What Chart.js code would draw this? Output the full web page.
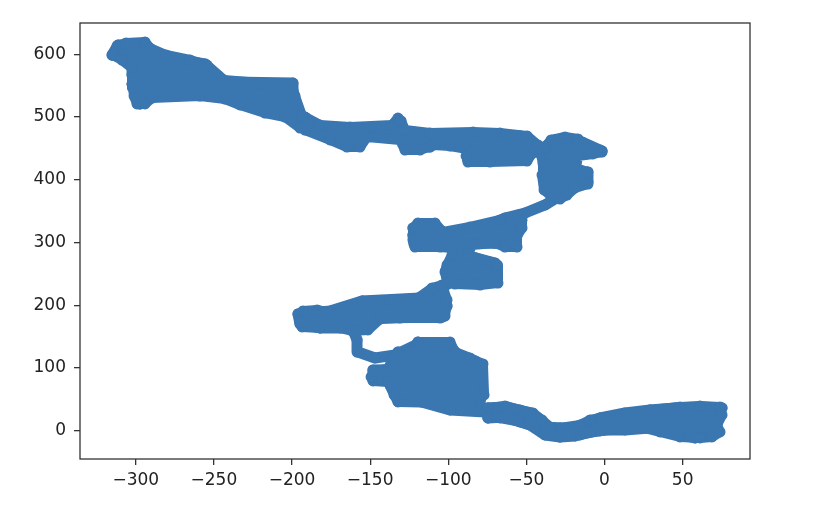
<!DOCTYPE html>
<html>
<head>
<meta charset="utf-8">
<script src="https://cdn.jsdelivr.net/npm/chart.js@4.4.1/dist/chart.umd.min.js"></script>
<style>
html, body { margin: 0; padding: 0; background: #fff; }
#wrap { width: 818px; height: 516px; }
</style>
</head>
<body>
<div id="wrap"><canvas id="chart"></canvas></div>
<script>
// path of the walk (waypoints, joined by a thick stroke)
var walkX = [75.2, 61.1, 45.1, 29.1, 13.1, -2.9, -10.6, -18.9, -28.5, -38.1,
    -47.7, -63.7, -74.6, -74.6, -63.7, -47.7, -38.1, -28.5, -18.9, -9.3,
    0.3, 13.1, 29.1, 41.9, 57.9, 70.7, 72.6, 61.1, 35.5, 13.1,
    -2.9, -15.7, -38.1, -54.1, -76.5, -98.9, -130.9, -105.3, -79.7, -78.4,
    -134.1, -137.3, -79.7, -78.4, -148.2, -148.2, -79.7, -82.9, -136.0, -132.2,
    -95.7, -100.8, -118.1, -134.1, -146.9, -157.8, -158.4, -161.6, -182.1, -194.9,
    -196.2, -175.7, -155.2, -118.1, -100.8, -104.0, -143.7, -121.3, -106.6, -97.6,
    -86.1, -68.8, -68.8, -101.4, -98.9, -70.1, -89.3, -91.2, -105.3, -121.9,
    -122.6, -118.1, -108.5, -102.1, -86.1, -66.9, -76.5, -59.2, -57.3, -73.3,
    -63.7, -50.9, -38.1, -29.8, -26.6, -38.1, -10.6, -10.6, -38.1, -38.1,
    -23.4, -38.1, -1.6, -14.4, -31.7, -41.3, -54.1, -70.1, -87.4, -73.3,
    -50.9, -54.1, -82.9, -105.3, -111.7, -125.8, -129.0, -131.5, -136.0, -156.5,
    -159.7, -153.3, -175.7, -191.7, -194.9, -214.1, -233.3, -201.3, -199.4, -199.4,
    -239.7, -244.8, -294.1, -297.3, -300.5, -302.4, -244.8, -247.4, -302.4, -302.4,
    -255.7, -279.4, -290.9, -294.1, -311.4, -315.2, -303.7, -284.5];
var walkY = [36.2, 37.8, 36.2, 33.0, 28.2, 20.2, 12.3, 4.3, 4.3, 5.9,
    28.2, 37.8, 36.2, 20.2, 21.8, 9.1, -6.9, -10.0, -8.4, -2.1,
    1.1, 1.1, 4.3, -2.1, -11.6, -3.7, 17.1, 12.3, 17.1, 13.9,
    10.7, 1.1, 1.1, 20.2, 29.8, 33.0, 55.3, 45.7, 45.7, 60.1,
    60.1, 72.8, 72.8, 87.2, 87.2, 96.8, 99.9, 111.1, 111.1, 125.4,
    125.4, 139.8, 139.8, 120.7, 115.9, 125.4, 144.6, 163.7, 163.7, 170.1,
    186.0, 190.8, 206.7, 211.5, 198.8, 181.2, 179.6, 200.4, 225.9, 237.0,
    243.4, 238.6, 254.6, 256.2, 268.9, 267.3, 280.1, 296.0, 296.0, 297.6,
    311.9, 327.9, 327.9, 310.4, 316.7, 316.7, 299.2, 297.6, 326.3, 327.9,
    339.0, 347.0, 359.8, 372.5, 386.9, 396.4, 396.4, 412.4, 412.4, 429.9,
    431.5, 445.8, 445.8, 460.2, 463.4, 447.4, 434.7, 431.5, 431.5, 444.2,
    453.8, 469.8, 471.3, 469.8, 452.2, 452.2, 471.3, 495.3, 482.5, 482.5,
    457.0, 469.8, 472.9, 484.1, 500.0, 511.2, 524.0, 524.0, 539.9, 554.2,
    555.8, 539.9, 536.7, 520.8, 539.9, 552.6, 552.6, 565.4, 567.0, 581.3,
    584.5, 594.1, 603.6, 614.8, 614.8, 598.9, 590.9, 595.7];

// dense clumps of points, as outlines [x, y]
var clumpTopLeft = [[-314.6, 598.9], [-312.0, 613.2], [-306.2, 618.0], [-294.1, 619.6], [-290.9, 610.0],
    [-280.6, 598.9], [-265.3, 590.9], [-254.4, 582.9], [-243.5, 559.0], [-220.5, 554.2],
    [-200.0, 551.0], [-198.1, 533.5], [-193.6, 501.6], [-190.4, 485.7], [-194.9, 482.5],
    [-204.5, 500.0], [-217.3, 506.4], [-233.3, 519.2], [-242.9, 528.7], [-258.9, 533.5],
    [-289.6, 530.3], [-294.1, 520.8], [-299.2, 520.8], [-301.1, 533.5], [-301.8, 546.3],
    [-302.4, 578.1], [-308.8, 590.9]];
var clumpUpperBand = [[-191.7, 500.0], [-182.1, 487.3], [-162.9, 484.1], [-136.0, 487.3], [-132.2, 498.4],
    [-130.2, 493.7], [-127.7, 479.3], [-111.7, 474.5], [-84.2, 476.1], [-66.9, 474.5],
    [-49.6, 469.8], [-42.6, 455.4], [-49.6, 429.9], [-73.3, 428.3], [-87.4, 428.3],
    [-88.6, 437.9], [-84.2, 447.4], [-98.9, 453.8], [-109.8, 455.4], [-118.1, 447.4],
    [-127.7, 447.4], [-130.9, 463.4], [-152.0, 468.2], [-156.5, 452.2], [-164.8, 452.2],
    [-175.7, 463.4], [-191.7, 479.3]];
var clumpRight = [[-38.1, 452.2], [-34.2, 463.4], [-25.3, 468.2], [-17.0, 465.0], [-12.5, 447.4],
    [-2.9, 447.4], [-1.6, 444.2], [-7.4, 441.1], [-17.0, 437.9], [-18.2, 418.7],
    [-11.2, 412.4], [-10.6, 393.2], [-18.9, 386.9], [-24.0, 375.7], [-28.5, 369.3],
    [-34.2, 374.1], [-38.7, 383.7], [-40.0, 407.6], [-39.4, 426.7], [-40.6, 439.5]];
var clumpMiddle = [[-122.6, 323.1], [-119.4, 331.1], [-108.5, 331.1], [-103.4, 316.7], [-86.1, 324.7],
    [-66.9, 335.9], [-55.4, 343.8], [-52.8, 335.9], [-52.8, 323.1], [-56.0, 310.4],
    [-56.0, 292.8], [-63.7, 292.8], [-70.1, 299.2], [-84.8, 296.0], [-87.4, 280.1],
    [-73.3, 268.9], [-68.8, 264.1], [-68.2, 235.4], [-79.7, 232.2], [-95.7, 233.8],
    [-100.8, 237.0], [-102.1, 252.9], [-100.8, 264.1], [-97.6, 280.1], [-97.6, 291.2],
    [-105.3, 292.8], [-121.3, 292.8], [-122.6, 304.0]];
var clumpBand200 = [[-194.9, 173.3], [-193.0, 190.8], [-184.0, 192.4], [-169.3, 184.4], [-156.5, 190.8],
    [-154.6, 206.7], [-137.3, 208.3], [-119.4, 211.5], [-110.4, 227.5], [-104.0, 232.2],
    [-100.8, 208.3], [-102.1, 182.8], [-105.3, 179.6], [-130.9, 179.6], [-143.7, 178.0],
    [-151.4, 160.5], [-161.6, 158.9], [-169.3, 163.7], [-182.1, 163.7], [-193.6, 165.3]];
var clumpLower = [[-119.4, 141.4], [-98.9, 141.4], [-95.7, 125.4], [-86.1, 115.9], [-77.8, 106.3],
    [-77.1, 56.9], [-86.1, 48.9], [-103.4, 44.2], [-132.2, 45.7], [-134.7, 56.9],
    [-138.6, 77.6], [-148.2, 79.2], [-149.4, 85.6], [-147.5, 95.2], [-138.6, 98.4],
    [-135.4, 115.9], [-132.2, 122.3], [-124.5, 127.0]];
var clumpBottom = [[-74.6, 36.2], [-63.7, 39.4], [-54.1, 33.0], [-45.8, 28.2], [-40.0, 17.1],
    [-34.9, 5.9], [-28.5, 4.3], [-15.7, 9.1], [-9.3, 17.1], [-2.9, 20.2],
    [16.3, 25.0], [29.1, 33.0], [48.3, 37.8], [61.1, 39.4], [73.9, 37.8],
    [75.2, 25.0], [72.0, 9.1], [73.9, -2.1], [68.8, -10.0], [61.1, -11.6],
    [48.3, -10.0], [35.5, -2.1], [22.7, 5.9], [9.9, 2.7], [-2.9, -0.5],
    [-15.7, -6.9], [-28.5, -10.0], [-38.1, -5.3], [-44.5, 5.9], [-54.1, 13.9],
    [-66.9, 20.2], [-74.6, 20.2]];

var xTicks = [-300, -250, -200, -150, -100, -50, 0, 50];
var yTicks = [0, 100, 200, 300, 400, 500, 600];
var xRange = [-335.7, 93.1];
var yRange = [-45.2, 649.9];

var blue = '#3a76b0';
var axisColor = '#333';
var tickFont = {family: 'DejaVu Sans', size: 17};

var points = walkX.map(function(x, i) { return {x: x, y: walkY[i]}; });

function clumpDataset(pairs) {
    var pts = pairs.map(function(p) { return {x: p[0], y: p[1]}; });
    pts.push({x: pairs[0][0], y: pairs[0][1]});
    return {
        data: pts,
        showLine: true,
        fill: 'shape',
        borderColor: blue,
        backgroundColor: blue,
        borderWidth: 10,
        borderJoinStyle: 'round',
        borderCapStyle: 'round',
        tension: 0,
        pointRadius: 5.5,
        pointHoverRadius: 5.5,
        pointBorderWidth: 0
    };
}

function minusLabel(v) {
    return v < 0 ? '\u2212' + Math.abs(v) : String(v);
}

var framePlugin = {
    id: 'frame',
    afterDraw: function(chart) {
        var a = chart.chartArea, ctx = chart.ctx;
        ctx.save();
        ctx.strokeStyle = axisColor;
        ctx.lineWidth = 1.3;
        ctx.strokeRect(a.left, a.top, a.right - a.left, a.bottom - a.top);
        ctx.restore();
    }
};

new Chart(document.getElementById('chart'), {
    type: 'scatter',
    data: {
        datasets: [
            clumpDataset(clumpTopLeft),
            clumpDataset(clumpUpperBand),
            clumpDataset(clumpRight),
            clumpDataset(clumpMiddle),
            clumpDataset(clumpBand200),
            clumpDataset(clumpLower),
            clumpDataset(clumpBottom),
            {
                data: points,
                showLine: true,
                borderColor: blue,
                backgroundColor: blue,
                borderWidth: 11,
                borderJoinStyle: 'round',
                borderCapStyle: 'round',
                tension: 0,
                pointRadius: 5.5,
                pointHoverRadius: 5.5,
                pointBorderWidth: 0
            }
        ]
    },
    options: {
        responsive: true,
        maintainAspectRatio: false,
        devicePixelRatio: 1,
        animation: false,
        layout: {padding: {top: 23, right: 68, left: 0, bottom: 0}},
        plugins: {legend: {display: false}, tooltip: {enabled: false}},
        scales: {
            x: {
                type: 'linear',
                min: xRange[0],
                max: xRange[1],
                afterBuildTicks: function(s) { s.ticks = xTicks.map(function(v) { return {value: v}; }); },
                afterFit: function(s) { s.height = 57; },
                grid: {drawOnChartArea: false, drawTicks: true, tickLength: 6, color: axisColor, lineWidth: 1.3},
                border: {display: false},
                ticks: {color: '#222', font: tickFont, padding: 5, maxRotation: 0, autoSkip: false, callback: minusLabel}
            },
            y: {
                type: 'linear',
                min: yRange[0],
                max: yRange[1],
                afterBuildTicks: function(s) { s.ticks = yTicks.map(function(v) { return {value: v}; }); },
                afterFit: function(s) { s.width = 80; },
                grid: {drawOnChartArea: false, drawTicks: true, tickLength: 6, color: axisColor, lineWidth: 1.3},
                border: {display: false},
                ticks: {color: '#222', font: tickFont, padding: 8, autoSkip: false, callback: minusLabel}
            }
        }
    },
    plugins: [framePlugin]
});
</script>
</body>
</html>
